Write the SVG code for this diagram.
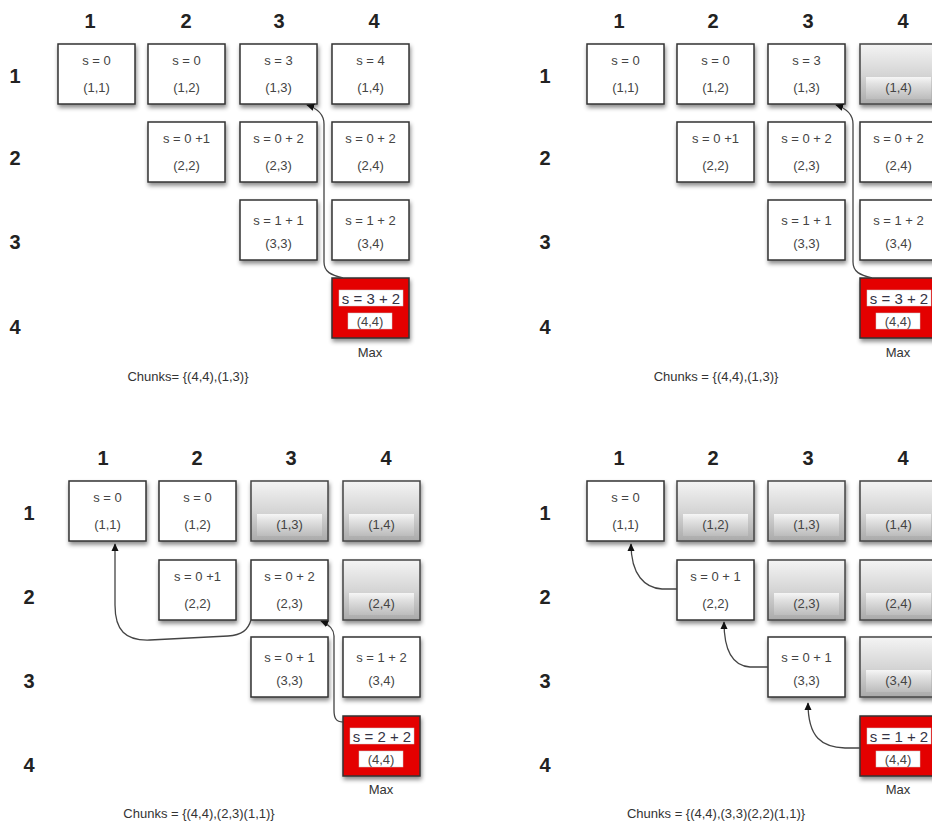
<svg xmlns="http://www.w3.org/2000/svg" width="932" height="827" viewBox="0 0 932 827">
<defs>
<style>
.hdr{font-family:"Liberation Sans",Arial,sans-serif;font-size:20px;font-weight:bold;fill:#222;text-anchor:middle}
.bx{fill:#fff;stroke:#333;stroke-width:1.5;filter:url(#sh)}
.gx{fill:url(#gbase);stroke:#444;stroke-width:1.5;filter:url(#sh)}
.rx{fill:#e40000;stroke:#333;stroke-width:1.5;filter:url(#sh)}
.wb{fill:#fff;stroke:#ccc;stroke-width:0.5}
.t{font-family:"Liberation Sans",Arial,sans-serif;font-size:13px;fill:#444;text-anchor:middle}
.tr{font-family:"Liberation Sans",Arial,sans-serif;font-size:15px;fill:#334;text-anchor:middle}
.lb{font-family:"Liberation Sans",Arial,sans-serif;font-size:13px;fill:#333;text-anchor:middle}
.cn{fill:none;stroke:#444;stroke-width:1.3;marker-end:url(#ah)}
</style>
<filter id="sh" x="-20%" y="-20%" width="150%" height="160%">
<feDropShadow dx="1" dy="3" stdDeviation="2" flood-color="#000" flood-opacity="0.45"/>
</filter>
<linearGradient id="gbase" x1="0" y1="0" x2="0" y2="1">
<stop offset="0" stop-color="#f4f4f4"/>
<stop offset="0.52" stop-color="#d4d4d4"/>
<stop offset="1" stop-color="#aaaaaa"/>
</linearGradient>
<linearGradient id="band" x1="0" y1="0" x2="0" y2="1">
<stop offset="0" stop-color="#f6f6f6"/>
<stop offset="0.3" stop-color="#e2e2e2"/>
<stop offset="1" stop-color="#bcbcbc"/>
</linearGradient>
<marker id="ah" viewBox="0 0 10 10" refX="9" refY="5" markerWidth="8" markerHeight="8" markerUnits="userSpaceOnUse" orient="auto">
<path d="M0,0.5 L10,5 L0,9.5 z" fill="#111"/>
</marker>
</defs>
<rect width="932" height="827" fill="#fff"/>

<!-- Headers -->
<g id="headers">
<text class="hdr" x="90" y="28">1</text><text class="hdr" x="186" y="28">2</text><text class="hdr" x="279" y="28">3</text><text class="hdr" x="374" y="28">4</text>
<text class="hdr" x="15" y="83">1</text><text class="hdr" x="15" y="165">2</text><text class="hdr" x="15" y="249">3</text><text class="hdr" x="15" y="334">4</text>
<text class="hdr" x="619" y="28">1</text><text class="hdr" x="713" y="28">2</text><text class="hdr" x="808" y="28">3</text><text class="hdr" x="903" y="28">4</text>
<text class="hdr" x="545" y="83">1</text><text class="hdr" x="545" y="165">2</text><text class="hdr" x="545" y="249">3</text><text class="hdr" x="545" y="334">4</text>
<text class="hdr" x="103" y="465">1</text><text class="hdr" x="197" y="465">2</text><text class="hdr" x="291" y="465">3</text><text class="hdr" x="386" y="465">4</text>
<text class="hdr" x="29" y="520">1</text><text class="hdr" x="29" y="604">2</text><text class="hdr" x="29" y="688">3</text><text class="hdr" x="29" y="772">4</text>
<text class="hdr" x="619" y="465">1</text><text class="hdr" x="713" y="465">2</text><text class="hdr" x="808" y="465">3</text><text class="hdr" x="903" y="465">4</text>
<text class="hdr" x="545" y="520">1</text><text class="hdr" x="545" y="604">2</text><text class="hdr" x="545" y="688">3</text><text class="hdr" x="545" y="772">4</text>
</g>

<!-- Quadrant 1 -->
<g id="q1-11"><rect class="bx" x="58" y="44" width="77" height="60"/><text class="t" x="96.5" y="65">s = 0</text><text class="t" x="96.5" y="92">(1,1)</text></g>
<g id="q1-12"><rect class="bx" x="148" y="44" width="77" height="60"/><text class="t" x="186.5" y="65">s = 0</text><text class="t" x="186.5" y="92">(1,2)</text></g>
<g id="q1-13"><rect class="bx" x="240" y="44" width="77" height="60"/><text class="t" x="278.5" y="65">s = 3</text><text class="t" x="278.5" y="92">(1,3)</text></g>
<g id="q1-14"><rect class="bx" x="332" y="44" width="77" height="60"/><text class="t" x="370.5" y="65">s = 4</text><text class="t" x="370.5" y="92">(1,4)</text></g>
<g id="q1-22"><rect class="bx" x="148" y="122" width="77" height="60"/><text class="t" x="186.5" y="143">s = 0 +1</text><text class="t" x="186.5" y="170">(2,2)</text></g>
<g id="q1-23"><rect class="bx" x="240" y="122" width="77" height="60"/><text class="t" x="278.5" y="143">s = 0 + 2</text><text class="t" x="278.5" y="170">(2,3)</text></g>
<g id="q1-24"><rect class="bx" x="332" y="122" width="77" height="60"/><text class="t" x="370.5" y="143">s = 0 + 2</text><text class="t" x="370.5" y="170">(2,4)</text></g>
<g id="q1-33"><rect class="bx" x="240" y="200" width="77" height="60"/><text class="t" x="278.5" y="225">s = 1 + 1</text><text class="t" x="278.5" y="248">(3,3)</text></g>
<g id="q1-34"><rect class="bx" x="332" y="200" width="77" height="60"/><text class="t" x="370.5" y="225">s = 1 + 2</text><text class="t" x="370.5" y="248">(3,4)</text></g>
<g id="q1-44"><rect class="rx" x="332" y="278" width="77" height="60"/><rect class="wb" x="339" y="290" width="64" height="16"/><text class="tr" x="371" y="303.5">s = 3 + 2</text><rect class="wb" x="348" y="313" width="44" height="16"/><text class="t" x="370" y="326">(4,4)</text></g>
<text class="lb" x="370" y="357">Max</text>
<text class="lb" x="188" y="381">Chunks= {(4,4),(1,3)}</text>

<!-- Quadrant 2 -->
<g id="q2-11"><rect class="bx" x="587" y="44" width="77" height="60"/><text class="t" x="625.5" y="65">s = 0</text><text class="t" x="625.5" y="92">(1,1)</text></g>
<g id="q2-12"><rect class="bx" x="677" y="44" width="77" height="60"/><text class="t" x="715.5" y="65">s = 0</text><text class="t" x="715.5" y="92">(1,2)</text></g>
<g id="q2-13"><rect class="bx" x="768" y="44" width="77" height="60"/><text class="t" x="806.5" y="65">s = 3</text><text class="t" x="806.5" y="92">(1,3)</text></g>
<g id="q2-14"><rect class="gx" x="860" y="44" width="77" height="60"/><rect x="866" y="77" width="65" height="22" fill="url(#band)"/><text class="t" x="898.5" y="92">(1,4)</text></g>
<g id="q2-22"><rect class="bx" x="677" y="122" width="77" height="60"/><text class="t" x="715.5" y="143">s = 0 +1</text><text class="t" x="715.5" y="170">(2,2)</text></g>
<g id="q2-23"><rect class="bx" x="768" y="122" width="77" height="60"/><text class="t" x="806.5" y="143">s = 0 + 2</text><text class="t" x="806.5" y="170">(2,3)</text></g>
<g id="q2-24"><rect class="bx" x="860" y="122" width="77" height="60"/><text class="t" x="898.5" y="143">s = 0 + 2</text><text class="t" x="898.5" y="170">(2,4)</text></g>
<g id="q2-33"><rect class="bx" x="768" y="200" width="77" height="60"/><text class="t" x="806.5" y="225">s = 1 + 1</text><text class="t" x="806.5" y="248">(3,3)</text></g>
<g id="q2-34"><rect class="bx" x="860" y="200" width="77" height="60"/><text class="t" x="898.5" y="225">s = 1 + 2</text><text class="t" x="898.5" y="248">(3,4)</text></g>
<g id="q2-44"><rect class="rx" x="860" y="278" width="77" height="60"/><rect class="wb" x="867" y="290" width="64" height="16"/><text class="tr" x="899" y="303.5">s = 3 + 2</text><rect class="wb" x="876" y="313" width="44" height="16"/><text class="t" x="898" y="326">(4,4)</text></g>
<text class="lb" x="898" y="357">Max</text>
<text class="lb" x="716" y="381">Chunks = {(4,4),(1,3)}</text>

<!-- Quadrant 3 -->
<g id="q3-11"><rect class="bx" x="69" y="481" width="77" height="60"/><text class="t" x="107.5" y="502">s = 0</text><text class="t" x="107.5" y="529">(1,1)</text></g>
<g id="q3-12"><rect class="bx" x="159" y="481" width="77" height="60"/><text class="t" x="197.5" y="502">s = 0</text><text class="t" x="197.5" y="529">(1,2)</text></g>
<g id="q3-13"><rect class="gx" x="251" y="481" width="77" height="60"/><rect x="257" y="514" width="65" height="22" fill="url(#band)"/><text class="t" x="289.5" y="529">(1,3)</text></g>
<g id="q3-14"><rect class="gx" x="343" y="481" width="77" height="60"/><rect x="349" y="514" width="65" height="22" fill="url(#band)"/><text class="t" x="381.5" y="529">(1,4)</text></g>
<g id="q3-22"><rect class="bx" x="159" y="560" width="77" height="60"/><text class="t" x="197.5" y="581">s = 0 +1</text><text class="t" x="197.5" y="608">(2,2)</text></g>
<g id="q3-23"><rect class="bx" x="251" y="560" width="77" height="60"/><text class="t" x="289.5" y="581">s = 0 + 2</text><text class="t" x="289.5" y="608">(2,3)</text></g>
<g id="q3-24"><rect class="gx" x="343" y="560" width="77" height="60"/><rect x="349" y="593" width="65" height="22" fill="url(#band)"/><text class="t" x="381.5" y="608">(2,4)</text></g>
<g id="q3-33"><rect class="bx" x="251" y="637" width="77" height="60"/><text class="t" x="289.5" y="662">s = 0 + 1</text><text class="t" x="289.5" y="685">(3,3)</text></g>
<g id="q3-34"><rect class="bx" x="343" y="637" width="77" height="60"/><text class="t" x="381.5" y="662">s = 1 + 2</text><text class="t" x="381.5" y="685">(3,4)</text></g>
<g id="q3-44"><rect class="rx" x="343" y="716" width="77" height="60"/><rect class="wb" x="350" y="728" width="64" height="16"/><text class="tr" x="382" y="741.5">s = 2 + 2</text><rect class="wb" x="359" y="751" width="44" height="16"/><text class="t" x="381" y="764">(4,4)</text></g>
<text class="lb" x="381" y="794">Max</text>
<text class="lb" x="199" y="818">Chunks = {(4,4),(2,3)(1,1)}</text>

<!-- Quadrant 4 -->
<g id="q4-11"><rect class="bx" x="587" y="481" width="77" height="60"/><text class="t" x="625.5" y="502">s = 0</text><text class="t" x="625.5" y="529">(1,1)</text></g>
<g id="q4-12"><rect class="gx" x="677" y="481" width="77" height="60"/><rect x="683" y="514" width="65" height="22" fill="url(#band)"/><text class="t" x="715.5" y="529">(1,2)</text></g>
<g id="q4-13"><rect class="gx" x="768" y="481" width="77" height="60"/><rect x="774" y="514" width="65" height="22" fill="url(#band)"/><text class="t" x="806.5" y="529">(1,3)</text></g>
<g id="q4-14"><rect class="gx" x="860" y="481" width="77" height="60"/><rect x="866" y="514" width="65" height="22" fill="url(#band)"/><text class="t" x="898.5" y="529">(1,4)</text></g>
<g id="q4-22"><rect class="bx" x="677" y="560" width="77" height="60"/><text class="t" x="715.5" y="581">s = 0 + 1</text><text class="t" x="715.5" y="608">(2,2)</text></g>
<g id="q4-23"><rect class="gx" x="768" y="560" width="77" height="60"/><rect x="774" y="593" width="65" height="22" fill="url(#band)"/><text class="t" x="806.5" y="608">(2,3)</text></g>
<g id="q4-24"><rect class="gx" x="860" y="560" width="77" height="60"/><rect x="866" y="593" width="65" height="22" fill="url(#band)"/><text class="t" x="898.5" y="608">(2,4)</text></g>
<g id="q4-33"><rect class="bx" x="768" y="637" width="77" height="60"/><text class="t" x="806.5" y="662">s = 0 + 1</text><text class="t" x="806.5" y="685">(3,3)</text></g>
<g id="q4-34"><rect class="gx" x="860" y="637" width="77" height="60"/><rect x="866" y="670" width="65" height="22" fill="url(#band)"/><text class="t" x="898.5" y="685">(3,4)</text></g>
<g id="q4-44"><rect class="rx" x="860" y="716" width="77" height="60"/><rect class="wb" x="867" y="728" width="64" height="16"/><text class="tr" x="899" y="741.5">s = 1 + 2</text><rect class="wb" x="876" y="751" width="44" height="16"/><text class="t" x="898" y="764">(4,4)</text></g>
<text class="lb" x="898" y="794">Max</text>
<text class="lb" x="716" y="818">Chunks = {(4,4),(3,3)(2,2)(1,1)}</text>

<!-- Connectors -->
<g id="connectors">
<path class="cn" d="M343,278 C331,275 324,272 324,262 L324,124 C324,114 316,108 307,105"/>
<path class="cn" d="M872,278 C860,275 853,272 853,262 L853,124 C853,114 845,108 836,105"/>
<path class="cn" d="M343,722 C336,722 334,718 334,710 L334,636 C334,628 328,624 321,621"/>
<path class="cn" d="M251,620 C248,630 242,635 228,636 L150,640 C125,641 115,630 115,605 L115,544"/>
<path class="cn" d="M860,748 L845,748 C822,747 808,738 808,703"/>
<path class="cn" d="M768,667 L750,667 C735,666 724,655 724,622"/>
<path class="cn" d="M677,589 L662,589 C645,588 631,575 631,544"/>
</g>
</svg>
